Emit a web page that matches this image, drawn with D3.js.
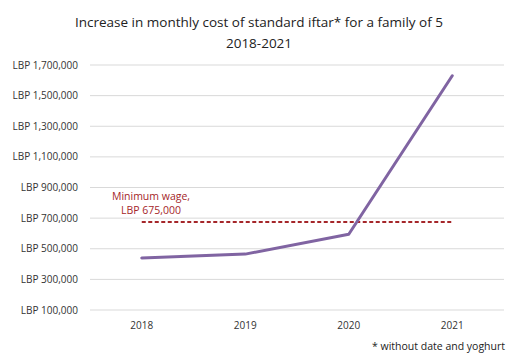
<!DOCTYPE html>
<html><head><meta charset="utf-8">
<script src="https://cdn.jsdelivr.net/npm/d3@7"></script>
<style>body{margin:0;background:#fff}svg{display:block}text{font-family:"Open Sans",sans-serif}</style>
</head><body><svg id="c" width="519" height="355"></svg>
<script>
const years = ["2018","2019","2020","2021"];
const cost = [440000, 465000, 595000, 1630000];
const minWage = 675000;
const yTicks = [100000,300000,500000,700000,900000,1100000,1300000,1500000,1700000];
const titleLines = ["Increase in monthly  cost of standard iftar* for a family of 5","2018-2021"];
const wageLabel = ["Minimum wage,","LBP 675,000"];
const footnote = "* without date and yoghurt";

const svg = d3.select("#c");
const x = d3.scalePoint().domain(years).range([90,504]).padding(0.5);
const y = d3.scaleLinear().domain([100000,1700000]).range([310,65]);

svg.append("g").selectAll("text").data(titleLines).join("text")
  .attr("x",259).attr("y",(d,i)=>27+i*21).attr("text-anchor","middle")
  .attr("font-size",13.5).attr("fill","#222").text(d=>d);

svg.append("g").selectAll("line").data(yTicks).join("line")
  .attr("x1",90).attr("x2",504).attr("y1",d=>y(d)).attr("y2",d=>y(d))
  .attr("stroke","#d9d9d9").attr("stroke-width",1);

const fmt = d3.format(",");
svg.append("g").selectAll("text").data(yTicks).join("text")
  .attr("x",78).attr("y",d=>y(d)+3.5).attr("text-anchor","end")
  .attr("font-size",10).attr("fill","#333").text(d=>"LBP "+fmt(d));

svg.append("g").selectAll("text").data(years).join("text")
  .attr("x",d=>x(d)).attr("y",329).attr("text-anchor","middle")
  .attr("font-size",10).attr("fill","#333").text(d=>d);

svg.append("line")
  .attr("x1",x(years[0])).attr("x2",x(years[years.length-1]))
  .attr("y1",y(minWage)).attr("y2",y(minWage))
  .attr("stroke","#a5262a").attr("stroke-width",2).attr("stroke-dasharray","4,2.5");

svg.append("g").selectAll("text").data(wageLabel).join("text")
  .attr("x",151).attr("y",(d,i)=>200+i*14).attr("text-anchor","middle")
  .attr("font-size",10.5).attr("fill","#a5262a").text(d=>d);

const line = d3.line().x((d,i)=>x(years[i])).y(d=>y(d));
svg.append("path").datum(cost).attr("d",line)
  .attr("fill","none").attr("stroke","#8064a2").attr("stroke-width",3)
  .attr("stroke-linejoin","round").attr("stroke-linecap","round");

svg.append("text").attr("x",505).attr("y",350).attr("text-anchor","end")
  .attr("font-size",10.5).attr("fill","#222").text(footnote);
</script></body></html>
